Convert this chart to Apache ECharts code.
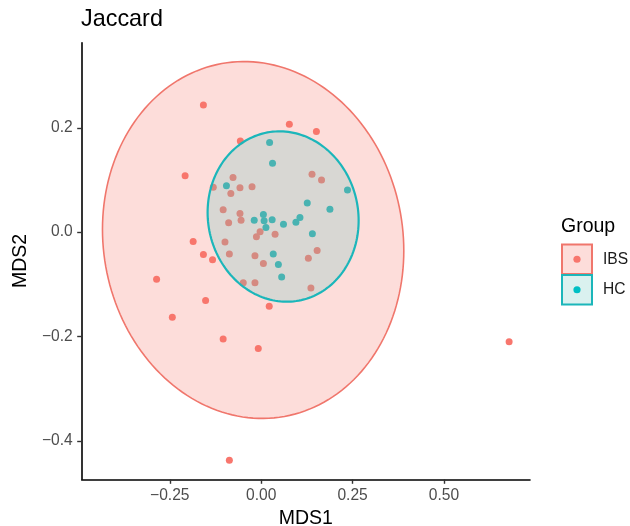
<!DOCTYPE html>
<html>
<head>
<meta charset="utf-8">
<script src="https://cdn.jsdelivr.net/npm/echarts@6/dist/echarts.min.js"></script>
<style>
  html, body { margin: 0; padding: 0; background: #fff; }
  #chart { width: 630px; height: 526px; }
</style>
</head>
<body>
<div id="chart"></div>
<script>
// NMDS ordination (Jaccard distance): one [MDS1, MDS2] pair per sample
const ibsPoints = [
  [-0.158, 0.244], [0.077, 0.207], [0.151, 0.193], [-0.057, 0.175],
  [-0.208, 0.108], [-0.077, 0.105], [-0.131, 0.086], [-0.058, 0.085],
  [-0.025, 0.087], [-0.083, 0.074], [0.139, 0.111], [0.165, 0.100],
  [-0.104, 0.043], [-0.058, 0.036], [-0.055, 0.023], [-0.089, 0.018],
  [-0.003, 0.001], [-0.013, -0.009], [0.038, -0.004], [-0.186, -0.018],
  [-0.099, -0.019], [-0.158, -0.043], [-0.133, -0.053], [-0.087, -0.042],
  [-0.017, -0.045], [0.006, -0.060], [0.129, -0.050], [0.153, -0.035],
  [-0.049, -0.097], [-0.017, -0.097], [0.136, -0.107], [-0.152, -0.131],
  [0.022, -0.142], [-0.286, -0.090], [-0.243, -0.163], [-0.104, -0.205],
  [-0.008, -0.223], [-0.087, -0.437], [0.678, -0.210]
];
const hcPoints = [
  [0.023, 0.172], [0.031, 0.132], [-0.095, 0.089], [0.236, 0.081],
  [0.126, 0.056], [0.188, 0.044], [-0.019, 0.023], [0.006, 0.034],
  [0.008, 0.022], [0.030, 0.024], [0.013, 0.009], [0.061, 0.015],
  [0.106, 0.028], [0.095, 0.019], [0.140, -0.003], [0.033, -0.042],
  [0.047, -0.062], [0.056, -0.086]
];

// 95% ellipses: [centre x, centre y, sd x, sd y, covariance xy]
const ibsEllipse = [-0.022, -0.015, 0.412, 0.342, -0.0084];
const hcEllipse = [0.060, 0.030, 0.2065, 0.1633, -0.0016];

const xTicks = [-0.25, 0, 0.25, 0.5];
const xTickLabels = ['\u22120.25', '0.00', '0.25', '0.50'];
const yTicks = [-0.4, -0.2, 0, 0.2];
const yTickLabels = ['\u22120.4', '\u22120.2', '0.0', '0.2'];

const groups = ['IBS', 'HC'];
const groupColors = ['#F8766D', '#00BFC4'];
const groupFills = ['rgba(248,118,109,0.25)', 'rgba(108,198,190,0.25)'];
const groupStrokes = ['#F0766C', '#1BB6BA'];

const FONT = '"Liberation Sans", Arial, Helvetica, sans-serif';

function tickLabel(ticks, labels) {
  return function (v) {
    for (let i = 0; i < ticks.length; i++) {
      if (Math.abs(ticks[i] - v) < 1e-9) return labels[i];
    }
    return '';
  };
}

function ellipseRenderer(e, fill, stroke, lw) {
  return function (params, api) {
    const [cx, cy, sx, sy, cxy] = e;
    const a21 = cxy / sx;
    const a22 = Math.sqrt(sy * sy - a21 * a21);
    const pts = [];
    const n = 180;
    for (let i = 0; i < n; i++) {
      const t = (i / n) * Math.PI * 2;
      pts.push(api.coord([cx + sx * Math.cos(t), cy + a21 * Math.cos(t) + a22 * Math.sin(t)]));
    }
    return {
      type: 'polygon',
      shape: { points: pts },
      style: { fill: fill, stroke: stroke, lineWidth: lw }
    };
  };
}

const chart = echarts.init(document.getElementById('chart'), null, { renderer: 'canvas' });

const legendX = 562;
const legendGraphics = [
  { type: 'text', left: 561, top: 217, style: { text: 'Group', font: '19.5px ' + FONT, fill: '#000' } }
];
groups.forEach((g, i) => {
  const y = 244.5 + i * 30.5;
  legendGraphics.push(
    { type: 'rect', shape: { x: legendX, y: y, width: 30, height: 29.5 },
      style: { fill: groupFills[i], stroke: groupStrokes[i], lineWidth: 2 } },
    { type: 'circle', shape: { cx: legendX + 15, cy: y + 14.75, r: 3.6 },
      style: { fill: groupColors[i] } },
    { type: 'text', x: 603, y: y + 14.75,
      style: { text: g, font: '15.6px ' + FONT, fill: '#1a1a1a', verticalAlign: 'middle' } }
  );
});

chart.setOption({
  animation: false,
  backgroundColor: '#fff',
  title: {
    text: 'Jaccard',
    left: 81,
    top: 8,
    padding: 0,
    textStyle: { fontFamily: FONT, fontSize: 23.4, fontWeight: 'normal', color: '#000' }
  },
  grid: { left: 81.7, right: 100, top: 42.7, bottom: 46.7, containLabel: false, outerBoundsMode: 'none' },
  xAxis: {
    type: 'value',
    min: -0.4908,
    max: 0.7351,
    name: 'MDS1',
    nameLocation: 'middle',
    nameGap: 27,
    nameTextStyle: { fontFamily: FONT, fontSize: 19.5, color: '#000' },
    axisLine: { show: true, onZero: false, lineStyle: { color: '#000', width: 1.6 } },
    axisTick: { show: true, length: 4.5, customValues: xTicks, lineStyle: { color: '#333', width: 1.4 } },
    axisLabel: { customValues: xTicks, margin: 8.5, formatter: tickLabel(xTicks, xTickLabels),
      fontFamily: FONT, fontSize: 15.6, color: '#4D4D4D' },
    splitLine: { show: false }
  },
  yAxis: {
    type: 'value',
    min: -0.4737,
    max: 0.3632,
    name: 'MDS2',
    nameLocation: 'middle',
    nameGap: 47,
    nameRotate: 90,
    nameTextStyle: { fontFamily: FONT, fontSize: 19.5, color: '#000' },
    axisLine: { show: true, onZero: false, lineStyle: { color: '#000', width: 1.6 } },
    axisTick: { show: true, length: 4.5, customValues: yTicks, lineStyle: { color: '#333', width: 1.4 } },
    axisLabel: { customValues: yTicks, margin: 9, formatter: tickLabel(yTicks, yTickLabels),
      fontFamily: FONT, fontSize: 15.6, color: '#4D4D4D' },
    splitLine: { show: false }
  },
  series: [
    {
      name: 'IBS', type: 'scatter', data: ibsPoints, symbolSize: 7, z: 2,
      itemStyle: { color: groupColors[0], opacity: 1 }
    },
    {
      name: 'HC', type: 'scatter', data: hcPoints, symbolSize: 7, z: 2,
      itemStyle: { color: groupColors[1], opacity: 1 }
    },
    {
      type: 'custom', z: 3, silent: true,
      data: [[ibsEllipse[0], ibsEllipse[1]]],
      encode: { x: 0, y: 1 },
      renderItem: ellipseRenderer(ibsEllipse, groupFills[0], groupStrokes[0], 1.6)
    },
    {
      type: 'custom', z: 3, silent: true,
      data: [[hcEllipse[0], hcEllipse[1]]],
      encode: { x: 0, y: 1 },
      renderItem: ellipseRenderer(hcEllipse, groupFills[1], groupStrokes[1], 2.2)
    }
  ],
  graphic: legendGraphics
});
</script>
</body>
</html>
